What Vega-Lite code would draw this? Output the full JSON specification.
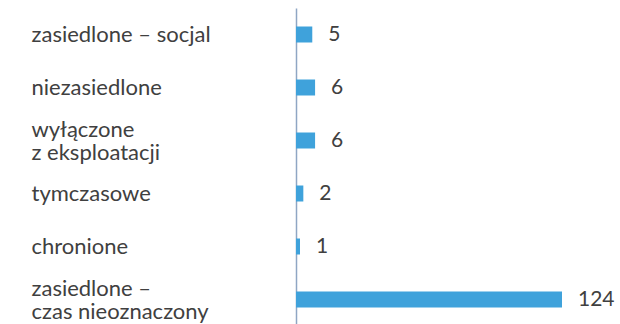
{
  "$schema": "https://vega.github.io/schema/vega-lite/v6.json",
  "autosize": "none",
  "width": 266,
  "height": 318,
  "padding": {"left": 296, "top": 8, "right": 58, "bottom": 0},
  "background": "white",
  "config": {"view": {"stroke": null}, "font": "Lato"},
  "data": {
    "values": [
      {"label": "zasiedlone – socjal", "value": 5},
      {"label": "niezasiedlone", "value": 6},
      {"label": "wyłączone|z eksploatacji", "value": 6},
      {"label": "tymczasowe", "value": 2},
      {"label": "chronione", "value": 1},
      {"label": "zasiedlone –|czas nieoznaczony", "value": 124}
    ]
  },
  "encoding": {
    "y": {
      "field": "label",
      "type": "nominal",
      "sort": null,
      "title": null,
      "axis": {
        "labelExpr": "split(datum.label, '|')",
        "labelAlign": "left",
        "labelPadding": 265,
        "labelFontSize": 22,
        "labelColor": "#404040",
        "labelLineHeight": 23,
        "labelOffset": {"condition": {"test": "indexof(datum.value, '|') >= 0", "value": -11}, "value": 0},
        "ticks": false,
        "domainColor": "#8fa6c4",
        "domainWidth": 1.5,
        "grid": false,
        "labelLimit": 300
      }
    },
    "x": {
      "field": "value",
      "type": "quantitative",
      "scale": {"type": "pow", "exponent": 0.87, "domain": [0, 124], "nice": false},
      "axis": null
    }
  },
  "layer": [
    {"mark": {"type": "bar", "size": 16, "color": "#3fa2db"}},
    {
      "mark": {"type": "text", "align": "left", "baseline": "middle", "dx": 16, "fontSize": 21, "color": "#404040"},
      "encoding": {"text": {"field": "value", "type": "quantitative"}}
    }
  ]
}
